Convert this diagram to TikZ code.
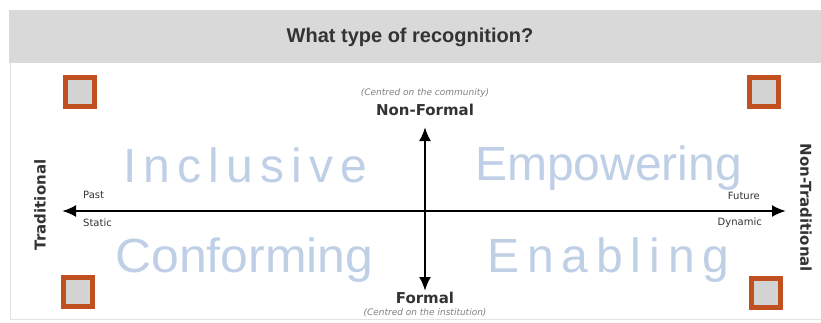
\documentclass[tikz,border=0pt]{standalone}
\usepackage{fontspec}
\setmainfont{DejaVu Sans}
\newfontfamily\titlefont{Liberation Sans}
\newfontfamily\widefont[LetterSpace=15]{Liberation Sans}
\newfontfamily\widerfont[LetterSpace=16.5]{Liberation Sans}
\usepackage{tikz}
\usetikzlibrary{arrows.meta,positioning}
\definecolor{bandgrey}{HTML}{D9D9D9}
\definecolor{framegrey}{HTML}{E2E2E2}
\definecolor{boxfill}{HTML}{D3D3D3}
\definecolor{boxedge}{HTML}{C0501F}
\definecolor{quadblue}{HTML}{BFCFE6}
\definecolor{labelgrey}{HTML}{333333}
\tikzset{
	axis/.style={line width=2.4pt, {Latex[length=14pt,width=12pt]}-{Latex[length=14pt,width=12pt]}},
	corner/.style={draw=boxedge, fill=boxfill, line width=5pt, minimum size=29pt, inner sep=0pt},
	quad/.style={text=quadblue, inner sep=0pt, font=\titlefont\fontsize{48}{48}\selectfont},
	widequad/.style={quad, font=\widefont\fontsize{48}{48}\selectfont},
	pole/.style={text=labelgrey, inner sep=0pt, font=\bfseries\fontsize{15}{15}\selectfont},
	note/.style={text=gray, inner sep=0pt, font=\itshape\fontsize{9}{9}\selectfont},
	tick/.style={text=labelgrey, inner sep=0pt, font=\fontsize{10}{10}\selectfont}
}
\begin{document}
\begin{tikzpicture}[x=1pt, y=-1pt]
	\useasboundingbox (0, 0) rectangle (821, 322);
		\fill[bandgrey] (9, 10) rectangle (821, 63);
		\draw[framegrey, line width=1pt] (10.5, 63) -- (10.5, 319.5) -- (821, 319.5);
		\node[text=labelgrey, font=\titlefont\bfseries\fontsize{20}{20}\selectfont] (title) at (410, 37) {What type of recognition?};

		\node[corner] (tl) at (80, 92) {};
		\node[corner] (tr) at (764, 92) {};
		\node[corner] (bl) at (78, 292) {};
		\node[corner] (br) at (766, 293) {};

		\node[widequad, anchor=base west] (inclusive) at (123, 182) {Inclusive};
		\node[quad, anchor=base west] (empowering) at (475, 180) {Empowering};
		\node[quad, anchor=base west, xscale=1.04] (conforming) at (115, 272) {Conforming};
		\node[widequad, font=\widerfont\fontsize{48}{48}\selectfont, anchor=base west] (enabling) at (487, 272) {Enabling};

		\coordinate (west) at (62, 211);
		\coordinate (east) at (786, 211);
		\coordinate (north) at (425, 127);
		\coordinate (south) at (425, 291);
		\draw[axis] (west) -- (east);
		\draw[axis] (south) -- (north);

		\node[pole, anchor=base] (nonformal) at (425, 115) {Non-Formal};
		\node[note, above=6pt of nonformal] (community) {(Centred on the community)};
		\node[pole, anchor=base] (formal) at (425, 303) {Formal};
		\node[note, below=5pt of formal] (institution) {(Centred on the institution)};
		\node[pole, rotate=90] (traditional) at (40, 205) {Traditional};
		\node[pole, rotate=-90] (nontraditional) at (806, 208) {Non-Traditional};

		\node[tick, anchor=west] (past) at (83, 195) {Past};
		\node[tick, anchor=west] (static) at (83, 223) {Static};
		\node[tick, anchor=east] (future) at (760, 196) {Future};
		\node[tick, anchor=east] (dynamic) at (762, 223) {Dynamic};
	\end{tikzpicture}
\end{document}
